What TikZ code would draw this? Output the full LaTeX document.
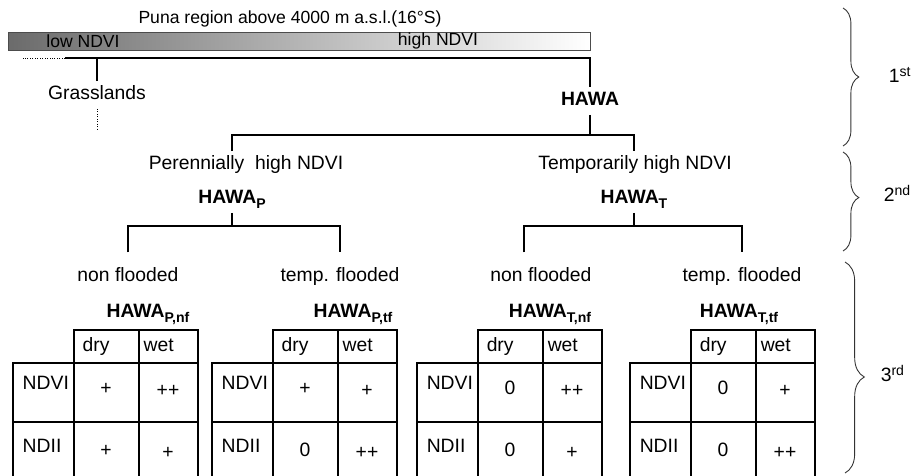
\documentclass[tikz,border=0pt]{standalone}
\usepackage{fontspec}
\setmainfont{Liberation Sans}
\usetikzlibrary{calc, decorations.pathreplacing}
\newcommand{\hsub}[1]{\raisebox{-2.5pt}{\fontsize{8}{9}\selectfont #1}}
\newcommand{\hsup}[1]{\raisebox{3.5pt}{\fontsize{8}{9}\selectfont #1}}

\begin{document}
\begin{tikzpicture}[x=0.02cm, y=-0.02cm,
  lbl/.style={font=\fontsize{11}{13}\selectfont, text height=8pt, text depth=2.5pt, inner sep=2.5pt},
  cls/.style={lbl, font=\fontsize{11}{13}\selectfont\bfseries},
  toplbl/.style={font=\fontsize{10}{12}\selectfont, inner sep=1pt},
  link/.style={line width=0.8pt},
  grid/.style={line width=0.6pt},
  lvl/.style={decorate, decoration={brace, amplitude=#1}, draw=black!80, line width=0.5pt}]
 \useasboundingbox (0,0) rectangle (912,476);
 \clip (0,0) rectangle (912,476);
 % 1st level
 \node[toplbl] (title) at (290,19) {Puna region above 4000 m a.s.l.(16°S)};
 \node[draw=black!70, line width=0.5pt, left color=black!58, right color=white, minimum width=11.64cm, minimum height=0.36cm, inner sep=0, anchor=north west] (bar) at (8,32) {};
 \node[toplbl] (low) at (83,41) {low NDVI};
 \node[toplbl] (high) at (438,41) {high NDVI};
 \coordinate (j1) at (65,58);
 \coordinate (lowend) at (23,58);
 \node[lbl] (grass) at (97,95) {Grasslands};
 \coordinate (grasstail) at (97,131);
 \node[cls] (hawa) at (590,101) {HAWA};
 \draw[link] (grass.north) -- (grass.north |- j1);
 \draw[link] (j1) -- (hawa.north |- j1) -- (hawa.north);
 \draw[densely dotted] (j1) -- (lowend);
 \draw[densely dotted] (grass.south) -- (grasstail);
 % 2nd level
 \coordinate (j2) at (0,135);
 \node[lbl] (perP) at (246,165) {Perennially\ \ high NDVI};
 \node[cls] (hawaP) at (232,199) {HAWA\hsub{P}};
 \node[lbl] (tmpT) at (635,165) {Temporarily high NDVI};
 \node[cls] (hawaT) at (634,199) {HAWA\hsub{T}};
 \draw[link] (hawa.south) -- (hawa.south |- j2);
 \draw[link] (perP.north -| hawaP.north) -- (hawaP.north |- j2) -- (hawaT.north |- j2) -- (tmpT.north -| hawaT.north);
 % 3rd level
 \coordinate (j3) at (0,226);
 \node[lbl] (nfP) at (128,277) {non flooded};
 \node[lbl] (tfP) at (340,277) {temp. flooded};
 \node[lbl] (nfT) at (541,277) {non flooded};
 \node[lbl] (tfT) at (742,277) {temp. flooded};
 \coordinate (dropT) at ($(nfT.north)+(-17,0)$);
 \draw[link] (hawaP.south) -- (hawaP.south |- j3);
 \draw[link] (hawaT.south) -- (hawaT.south |- j3);
 \draw[link, shorten <=6pt, shorten >=6pt] (nfP.north) -- (nfP.north |- j3) -- (tfP.north |- j3) -- (tfP.north);
 \draw[link, shorten <=6pt, shorten >=6pt] (dropT) -- (dropT |- j3) -- (tfT.north |- j3) -- (tfT.north);
 \node[cls] (hPnf) at (148,313) {HAWA\hsub{P,nf}};
 \node[cls] (hPtf) at (353,313) {HAWA\hsub{P,tf}};
 \node[cls] (hTnf) at (550,313) {HAWA\hsub{T,nf}};
 \node[cls] (hTtf) at (739,313) {HAWA\hsub{T,tf}};
 \foreach \L/\a/\b/\c/\d/\n in {13/+/++/+/+/pnf, 212/+/+/0/++/ptf, 417/0/++/0/+/tnf, 630/0/+/0/++/ttf}{
   \draw[grid] (\L+61,363) -- (\L+61,330) -- (\L+185,330) -- (\L+185,481);
   \draw[grid] (\L+126,330) -- (\L+126,481);
   \draw[grid] (\L,481) -- (\L,363) -- (\L+185,363);
   \draw[grid] (\L+61,363) -- (\L+61,481);
   \draw[grid] (\L,422) -- (\L+185,422);
   \node[lbl, anchor=west] (\n-dry) at (\L+65,347) {dry};
   \node[lbl, anchor=west] (\n-wet) at (\L+126,347) {wet};
   \node[lbl, anchor=west] (\n-ndvi) at (\L+5,385) {NDVI};
   \node[lbl, anchor=west] (\n-ndii) at (\L+5,448) {NDII};
   \node[lbl] (\n-a) at (\L+93,390) {\a};
   \node[lbl] (\n-b) at (\L+155,392) {\b};
   \node[lbl] (\n-c) at (\L+93,452) {\c};
   \node[lbl] (\n-d) at (\L+155,454) {\d};
 }
 % levels
 \draw[lvl=9pt] (843,8) -- (843,146);
 \draw[lvl=9pt, decoration={aspect=0.46}] (843,152) -- (843,251);
 \draw[lvl=11pt, decoration={aspect=0.545}] (845,262) -- (845,473);
 \node[lbl, anchor=west] (lv1) at (884,78) {1\hsup{st}};
 \node[lbl, anchor=west] (lv2) at (879,197) {2\hsup{nd}};
 \node[lbl, anchor=west] (lv3) at (876,377) {3\hsup{rd}};
\end{tikzpicture}
\end{document}
